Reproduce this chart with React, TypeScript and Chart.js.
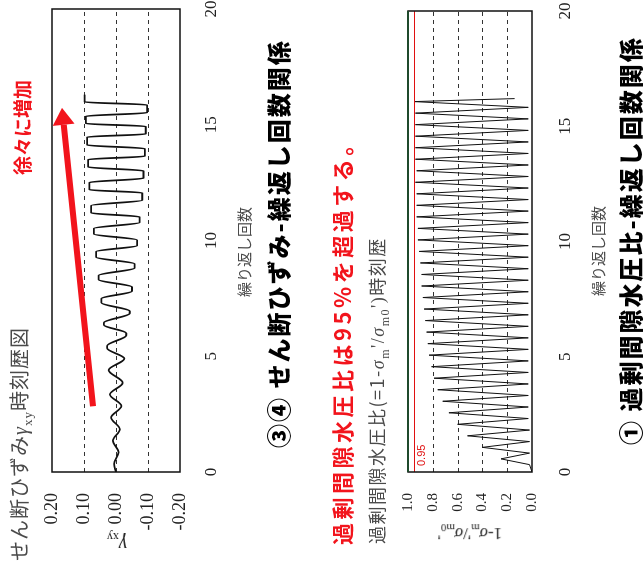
import React, { useEffect, useRef } from 'react';
import { Chart, registerables } from 'chart.js';

Chart.register(...registerables);

// ---------------- data ----------------
const CYCLE_MIN = 0;
const CYCLE_MAX = 20;
const CYCLE_STEP = 5;

const STRAIN_MIN = -0.2;
const STRAIN_MAX = 0.2;
const STRAIN_STEP = 0.1;
const strainGridValues = [0.1, 0, -0.1];

const RATIO_MIN = 0;
const RATIO_MAX = 1.0;
const RATIO_STEP = 0.2;
const ratioGridValues = [0.2, 0.4, 0.6, 0.8];
const RATIO_THRESHOLD = 0.95;
const RATIO_THRESHOLD_LABEL = '0.95';

// shear strain γxy time history (cycle, strain)
const strainCycles = [
  0, 0.35, 0.85, 1.35, 1.85, 2.35, 2.85, 3.35, 3.85, 4.4, 4.9,
  5.35, 5.45, 5.9, 6.0, 6.35, 6.45, 6.85, 6.95,
  7.31, 7.49, 7.81, 7.99, 8.31, 8.49, 8.81, 8.99,
  9.28, 9.52, 9.78, 10.02, 10.28, 10.52, 10.78, 11.02,
  11.19, 11.51, 11.74, 12.06, 12.19, 12.51, 12.69, 13.01,
  13.17, 13.5, 13.64, 13.97, 14.12, 14.47, 14.6, 14.93,
  15.05, 15.37, 15.52, 15.86, 15.98, 16.3,
];
const strainValues = [
  0, 0.006, -0.008, 0.010, -0.012, 0.015, -0.017, 0.019, -0.021, 0.023, -0.026,
  0.028, 0.028, -0.032, -0.032, 0.038, 0.038, -0.043, -0.043,
  0.046, 0.046, -0.050, -0.050, 0.054, 0.054, -0.058, -0.058,
  0.062, 0.062, -0.066, -0.066, 0.069, 0.069, -0.074, -0.074,
  0.078, 0.078, -0.082, -0.082, 0.083, 0.083, -0.086, -0.086,
  0.087, 0.087, -0.090, -0.090, 0.090, 0.090, -0.093, -0.093,
  0.094, 0.094, -0.097, -0.097, 0.098, 0.098,
];

// excess pore water pressure ratio time history (cycle, ratio)
const ratioCycles = [
  0, 0.32, 0.57, 0.82, 1.07, 1.32, 1.57, 1.82, 2.07, 2.32, 2.57, 2.82,
  3.07, 3.32, 3.57, 3.82, 4.07, 4.32, 4.57, 4.82, 5.07, 5.32, 5.57, 5.82,
  6.07, 6.32, 6.57, 6.82, 7.07, 7.32, 7.57, 7.82, 8.07, 8.32, 8.57, 8.82,
  9.07, 9.32, 9.57, 9.82, 10.07, 10.32, 10.57, 10.82, 11.07, 11.32, 11.57, 11.82,
  12.07, 12.32, 12.57, 12.82, 13.07, 13.32, 13.57, 13.82, 14.07, 14.32, 14.57, 14.82,
  15.07, 15.32, 15.57, 15.82, 16.07, 16.2,
];
const ratioValues = [
  0, 0.02, 0.25, 0.02, 0.40, 0.02, 0.52, 0.02, 0.60, 0.03, 0.67, 0.03,
  0.72, 0.03, 0.76, 0.03, 0.79, 0.03, 0.81, 0.03, 0.83, 0.03, 0.84, 0.03,
  0.85, 0.03, 0.86, 0.03, 0.87, 0.03, 0.88, 0.03, 0.89, 0.03, 0.89, 0.03,
  0.90, 0.03, 0.91, 0.03, 0.92, 0.03, 0.92, 0.03, 0.93, 0.03, 0.93, 0.03,
  0.93, 0.03, 0.94, 0.03, 0.93, 0.03, 0.94, 0.03, 0.94, 0.03, 0.94, 0.03,
  0.94, 0.03, 0.94, 0.03, 0.95, 0.14,
];

// red arrow annotation (data units of the strain chart)
const arrowFrom = { x: 2.84, y: 0.072 };
const arrowTo = { x: 15.73, y: 0.169 };

// ---------------- texts ----------------
const TXT_STRAIN_HEAD_A = 'せん断ひずみ';
const TXT_STRAIN_HEAD_B = '時刻歴図';
const TXT_INCREASE = '徐々に増加';
const TXT_CYCLES = '繰り返し回数';
const TXT_STRAIN_TITLE = '③④ せん断ひずみ-繰返し回数関係';
const TXT_RATIO_NOTE = '過剰間隙水圧比は95%を超過する。';
const TXT_RATIO_HEAD_A = '過剰間隙水圧比(=1-';
const TXT_RATIO_HEAD_B = '時刻歴';
const TXT_RATIO_TITLE = '① 過剰間隙水圧比-繰返し回数関係';

const FONT_JP = '"Noto Sans CJK JP", "Noto Sans", sans-serif';
const FONT_SERIF = '"Liberation Serif", "DejaVu Serif", serif';
const RED = '#f2141c';

function fmt(v: number, d: number) {
  if (Math.abs(v) < 1e-9) return (0).toFixed(d);
  return v.toFixed(d);
}

function framePlugin(opts: {
  grid: number[];
  topColor?: string;
  threshold?: number;
  thresholdLabel?: string;
  arrow?: boolean;
}) {
  return {
    id: 'frame',
    beforeDatasetsDraw(chart: any) {
      const { ctx, chartArea: a, scales } = chart;
      const y = scales.y;
      ctx.save();
      ctx.strokeStyle = '#333';
      ctx.lineWidth = 1;
      ctx.setLineDash([4, 4]);
      for (const v of opts.grid) {
        const py = Math.round(y.getPixelForValue(v)) + 0.5;
        ctx.beginPath();
        ctx.moveTo(a.left, py);
        ctx.lineTo(a.right, py);
        ctx.stroke();
      }
      ctx.restore();
    },
    afterDatasetsDraw(chart: any) {
      const { ctx, chartArea: a, scales } = chart;
      const x = scales.x;
      const y = scales.y;
      ctx.save();
      if (opts.threshold !== undefined) {
        const py = Math.round(y.getPixelForValue(opts.threshold)) + 0.5;
        ctx.strokeStyle = '#e01010';
        ctx.lineWidth = 1;
        ctx.beginPath();
        ctx.moveTo(a.left, py);
        ctx.lineTo(a.right, py);
        ctx.stroke();
        ctx.fillStyle = '#e01010';
        ctx.font = '11px "Liberation Sans", Arial, sans-serif';
        ctx.textBaseline = 'top';
        ctx.textAlign = 'left';
        ctx.fillText(opts.thresholdLabel || '', a.left + 6, py + 2);
      }
      ctx.strokeStyle = '#111';
      ctx.lineWidth = 1.5;
      ctx.strokeRect(a.left, a.top, a.right - a.left, a.bottom - a.top);
      if (opts.topColor) {
        ctx.strokeStyle = opts.topColor;
        ctx.lineWidth = 2;
        ctx.beginPath();
        ctx.moveTo(a.left, a.top);
        ctx.lineTo(a.right, a.top);
        ctx.stroke();
      }
      if (opts.arrow) {
        const x1 = x.getPixelForValue(arrowFrom.x);
        const y1 = y.getPixelForValue(arrowFrom.y);
        const x2 = x.getPixelForValue(arrowTo.x);
        const y2 = y.getPixelForValue(arrowTo.y);
        const ang = Math.atan2(y2 - y1, x2 - x1);
        const headLen = 17;
        const headHalf = 11;
        const bx = x2 - headLen * Math.cos(ang);
        const by = y2 - headLen * Math.sin(ang);
        ctx.strokeStyle = RED;
        ctx.lineWidth = 6;
        ctx.lineCap = 'butt';
        ctx.beginPath();
        ctx.moveTo(x1, y1);
        ctx.lineTo(bx, by);
        ctx.stroke();
        ctx.fillStyle = RED;
        ctx.beginPath();
        ctx.moveTo(x2, y2);
        ctx.lineTo(bx - headHalf * Math.sin(ang), by + headHalf * Math.cos(ang));
        ctx.lineTo(bx + headHalf * Math.sin(ang), by - headHalf * Math.cos(ang));
        ctx.closePath();
        ctx.fill();
      }
      ctx.restore();
    },
  };
}

function makeChart(
  canvas: HTMLCanvasElement,
  xs: number[],
  ys: number[],
  cfg: {
    yMin: number;
    yMax: number;
    yStep: number;
    yDigits: number;
    yFont: number;
    padTop: number;
    padRight: number;
    xHeight: number;
    xPad: number;
    lineWidth: number;
    monotone: boolean;
    plugin: any;
  }
) {
  return new Chart(canvas, {
    type: 'line',
    data: {
      datasets: [
        {
          data: xs.map((x, i) => ({ x, y: ys[i] })),
          borderColor: '#111',
          borderWidth: cfg.lineWidth,
          pointRadius: 0,
          fill: false,
          tension: 0,
          cubicInterpolationMode: cfg.monotone ? 'monotone' : 'default',
        } as any,
      ],
    },
    options: {
      responsive: false,
      animation: false,
      devicePixelRatio: 1,
      layout: { padding: { top: cfg.padTop, right: cfg.padRight, left: 0, bottom: 0 } },
      plugins: { legend: { display: false }, tooltip: { enabled: false } },
      scales: {
        x: {
          type: 'linear',
          min: CYCLE_MIN,
          max: CYCLE_MAX,
          afterFit: (s: any) => {
            s.height = cfg.xHeight;
            s.paddingLeft = 0;
            s.paddingRight = 0;
          },
          ticks: {
            stepSize: CYCLE_STEP,
            padding: cfg.xPad,
            maxRotation: 0,
            color: '#222',
            font: { family: FONT_SERIF, size: 17 },
          },
          grid: { display: false, drawTicks: false },
          border: { display: false },
        },
        y: {
          type: 'linear',
          min: cfg.yMin,
          max: cfg.yMax,
          afterFit: (s: any) => {
            s.width = 100;
            s.paddingTop = 0;
            s.paddingBottom = 0;
          },
          ticks: {
            stepSize: cfg.yStep,
            padding: 21,
            color: '#222',
            font: { family: FONT_SERIF, size: cfg.yFont },
            callback: (v: any) => fmt(Number(v), cfg.yDigits),
          },
          grid: { display: false, drawTicks: false },
          border: { display: false },
        },
      } as any,
    },
    plugins: [cfg.plugin],
  });
}

const abs = (left: number, top: number, extra: React.CSSProperties = {}): React.CSSProperties => ({
  position: 'absolute',
  left,
  top,
  whiteSpace: 'nowrap',
  lineHeight: 1,
  ...extra,
});

export default function App() {
  const strainRef = useRef<HTMLCanvasElement>(null);
  const ratioRef = useRef<HTMLCanvasElement>(null);

  useEffect(() => {
    const c1 = makeChart(strainRef.current!, strainCycles, strainValues, {
      yMin: STRAIN_MIN,
      yMax: STRAIN_MAX,
      yStep: STRAIN_STEP,
      yDigits: 2,
      yFont: 18,
      padTop: 22,
      padRight: 9,
      xHeight: 50,
      xPad: 21,
      lineWidth: 1.8,
      monotone: true,
      plugin: framePlugin({ grid: strainGridValues, arrow: true }),
    });
    const c2 = makeChart(ratioRef.current!, ratioCycles, ratioValues, {
      yMin: RATIO_MIN,
      yMax: RATIO_MAX,
      yStep: RATIO_STEP,
      yDigits: 1,
      yFont: 15,
      padTop: 28,
      padRight: 11,
      xHeight: 48,
      xPad: 23,
      lineWidth: 1,
      monotone: false,
      plugin: framePlugin({
        grid: ratioGridValues,
        topColor: '#1f4a2c',
        threshold: RATIO_THRESHOLD,
        thresholdLabel: RATIO_THRESHOLD_LABEL,
      }),
    });
    return () => {
      c1.destroy();
      c2.destroy();
    };
  }, []);

  const gray = '#4a4a4a';
  const centered = 'translate(-50%, -50%)';
  const leftMid = 'translateY(-50%)';

  return (
    <div
      style={{
        position: 'fixed',
        left: 0,
        top: 0,
        width: 572,
        height: 643,
        transformOrigin: '0 0',
        transform: 'translate(0px, 572px) rotate(-90deg)',
        background: '#fff',
        overflow: 'hidden',
      }}
    >
      <canvas ref={strainRef} width={572} height={200} style={{ position: 'absolute', left: 0, top: 30, width: 572, height: 200 }} />
      <canvas ref={ratioRef} width={572} height={200} style={{ position: 'absolute', left: 0, top: 380, width: 572, height: 200 }} />

      <div style={abs(11, 21, { transform: leftMid, fontFamily: FONT_JP, fontSize: 20, color: gray, letterSpacing: 1 })}>
        {TXT_STRAIN_HEAD_A}
        <i style={{ fontFamily: FONT_SERIF }}>γ</i>
        <sub style={{ fontSize: 13, fontFamily: FONT_SERIF }}>xy</sub>
        {TXT_STRAIN_HEAD_B}
      </div>
      <div style={abs(397, 21, { transform: leftMid, fontFamily: FONT_JP, fontSize: 19, fontWeight: 700, color: RED })}>
        {TXT_INCREASE}
      </div>
      <div style={abs(29, 117, { transform: centered + ' rotate(-90deg)', fontFamily: FONT_SERIF, fontSize: 20, color: '#222' })}>
        <i>γ</i>
        <sub style={{ fontSize: 12 }}>xy</sub>
      </div>
      <div style={abs(320, 243, { transform: centered, fontFamily: FONT_JP, fontSize: 15, color: gray })}>{TXT_CYCLES}</div>
      <div style={abs(124, 278, { transform: leftMid, fontFamily: FONT_JP, fontSize: 24, fontWeight: 900, color: '#000', letterSpacing: 2 })}>
        {TXT_STRAIN_TITLE}
      </div>

      <div style={abs(27, 341, { transform: leftMid, fontFamily: FONT_JP, fontSize: 22, fontWeight: 700, color: RED, letterSpacing: 3.5 })}>
        {TXT_RATIO_NOTE}
      </div>
      <div style={abs(28, 379, { transform: leftMid, fontFamily: FONT_JP, fontSize: 18, color: gray, letterSpacing: 1.5 })}>
        {TXT_RATIO_HEAD_A}
        <i style={{ fontFamily: FONT_SERIF }}>σ</i>
        <sub style={{ fontSize: 12, fontFamily: FONT_SERIF }}>m</sub>
        <span style={{ fontFamily: FONT_SERIF }}>'/</span>
        <i style={{ fontFamily: FONT_SERIF }}>σ</i>
        <sub style={{ fontSize: 12, fontFamily: FONT_SERIF }}>m0</sub>
        <span style={{ fontFamily: FONT_SERIF }}>')</span>
        {TXT_RATIO_HEAD_B}
      </div>
      <div style={abs(40, 470, { transform: centered + ' rotate(-90deg)', fontFamily: FONT_SERIF, fontSize: 17, color: '#222' })}>
        1-<i>σ</i>
        <sub style={{ fontSize: 11 }}>m</sub>'/<i>σ</i>
        <sub style={{ fontSize: 11 }}>m0</sub>'
      </div>
      <div style={abs(321, 597, { transform: centered, fontFamily: FONT_JP, fontSize: 15, color: gray })}>{TXT_CYCLES}</div>
      <div style={abs(127, 630, { transform: leftMid, fontFamily: FONT_JP, fontSize: 24, fontWeight: 900, color: '#000', letterSpacing: 2 })}>
        {TXT_RATIO_TITLE}
      </div>
    </div>
  );
}
